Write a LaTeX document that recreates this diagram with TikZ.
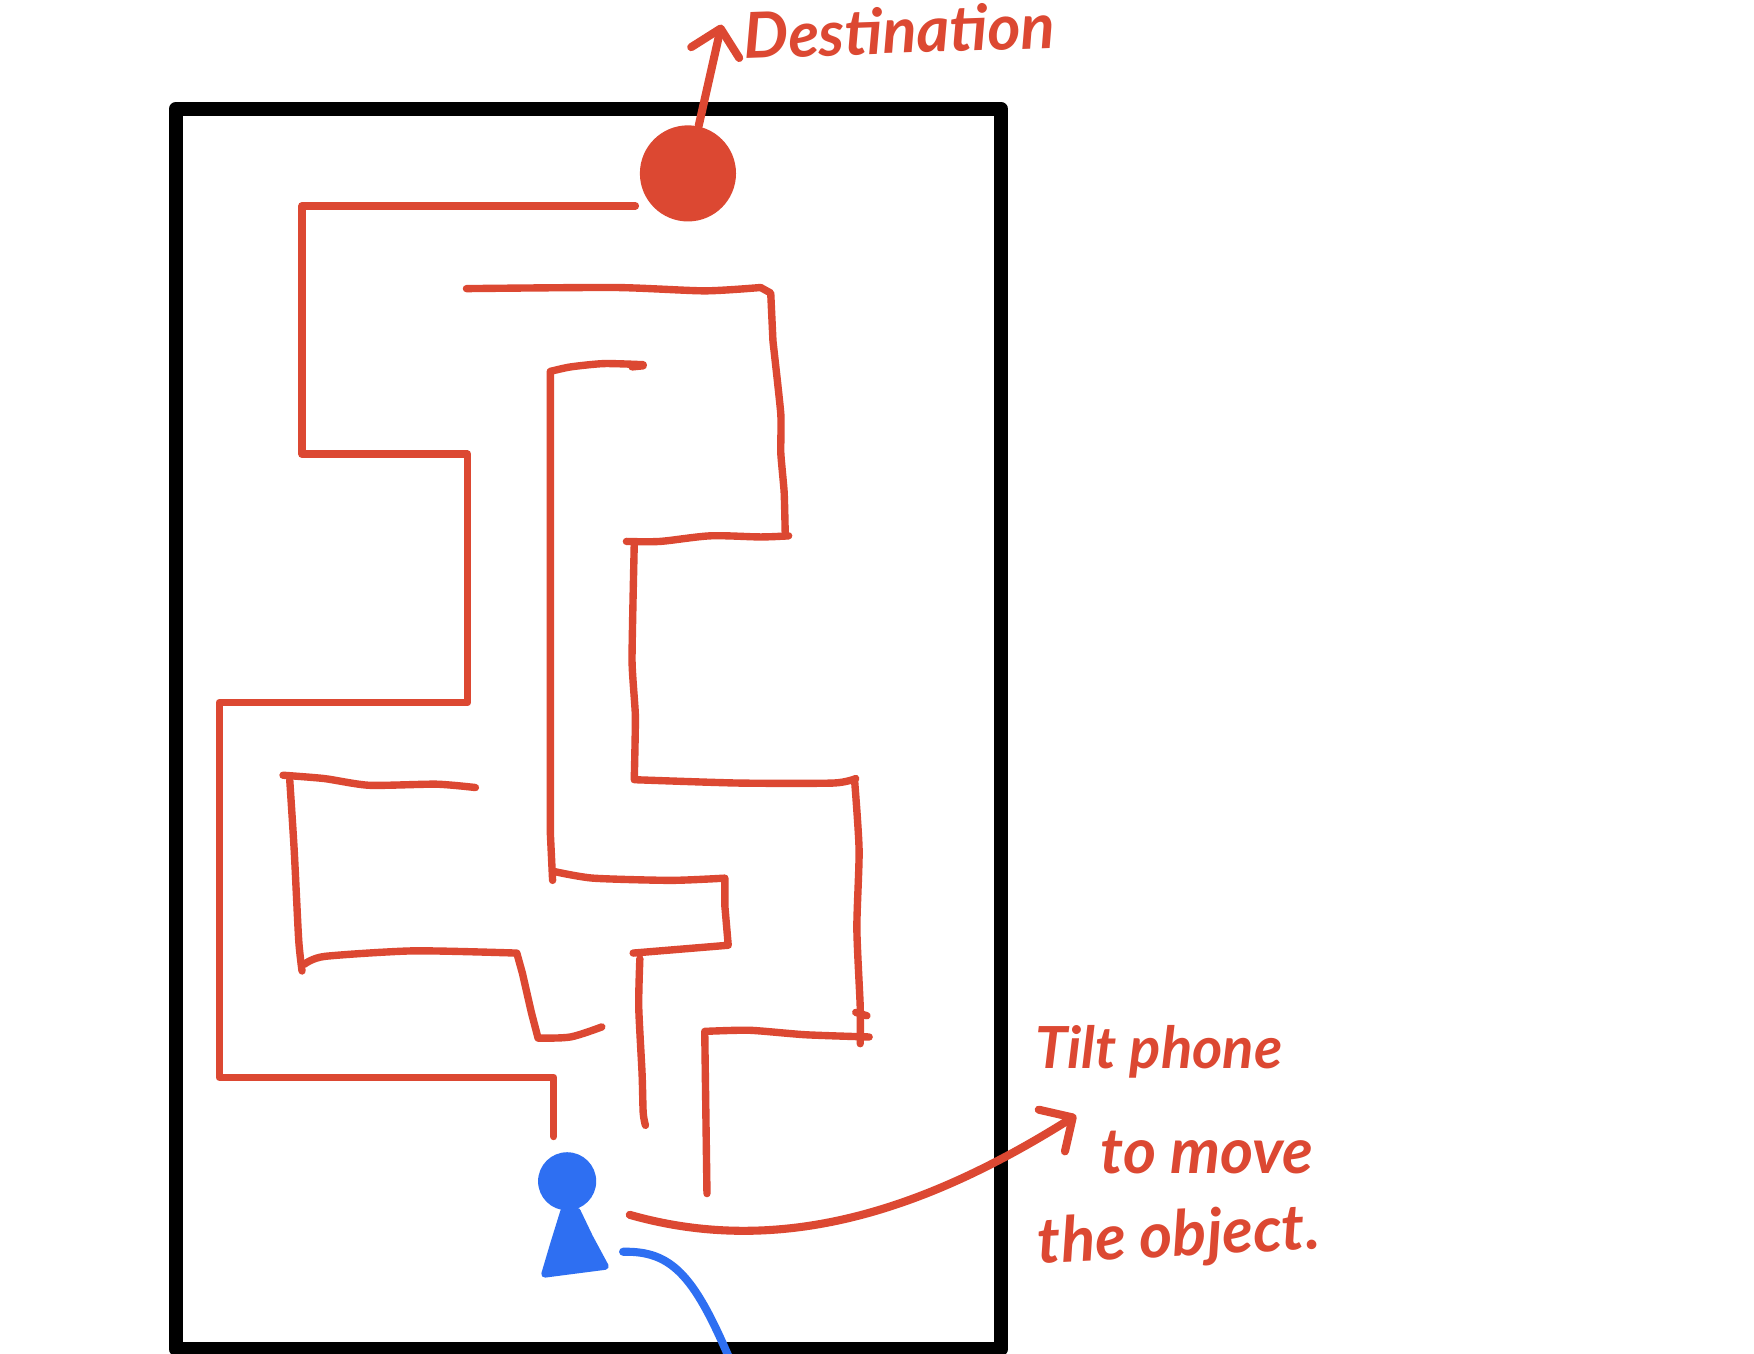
\documentclass[tikz,border=0pt]{standalone}
\usepackage{fontspec}
\setmainfont{Lato}
\usetikzlibrary{arrows.meta}
\definecolor{inkred}{HTML}{DC4832}
\definecolor{inkblue}{HTML}{2E6FF2}

\begin{document}
\begin{tikzpicture}[
    x=0.011186cm,
    y=-0.011186cm,
    frame/.style={draw=black, line width=4pt, line join=round},
    maze/.style={draw=inkred, line width=2.1pt, line cap=round, line join=round},
    arrow/.style={
        -{Straight Barb[length=7pt, width=14pt, line width=2.3pt, round]},
        draw=inkred,
        line width=2.3pt,
        line cap=round
    },
    note/.style={font=\itshape\bfseries\fontsize{18}{22}\selectfont, text=inkred, inner sep=0pt, anchor=center},
    goal/.style={circle, fill=inkred, minimum size=86*0.318pt, inner sep=0pt},
    head/.style={circle, fill=inkblue, minimum size=52*0.318pt, inner sep=0pt}
]
\useasboundingbox (0,0) rectangle (1568,1210.4);
\fill[white] (0,0) rectangle (1568,1210.4);

% ==================== PHONE ====================
\draw[frame] (157,97.5) rectangle (895,1206);

% ==================== MAZE WALLS ====================
\draw[maze] (568,184) -- (270,184) -- (270,406) -- (418,406) -- (418,628)
    -- (196,628) -- (196,963) -- (495,963) -- (495,1016);
\draw[maze] plot[smooth, tension=0.4] coordinates {(417,258) (550,257) (630,260) (680,257)}
    -- (689,262) -- plot[smooth, tension=0.3] coordinates {(691,305) (698,370) (698,405) (701,440) (702,479)};
\draw[maze] plot[smooth, tension=0.5] coordinates {(705,479) (680,480) (635,479) (590,484) (560,484)};
\draw[maze] plot[smooth, tension=0.3] coordinates {(567,486) (565,590) (568,640) (567,697)}
    -- plot[smooth, tension=0.4] coordinates {(567,697) (660,700) (745,700) (765,696)};
\draw[maze] plot[smooth, tension=0.4] coordinates {(764,698) (768,760) (766,830) (769,900) (769,933)};
\draw[maze] (765,905) -- (775,908);
\draw[maze] plot[smooth, tension=0.4] coordinates {(777,927) (720,925) (670,921) (630,922)}
    -- (632,1067);
\draw[maze] (575,327) -- (565,328) (575,326) -- plot[smooth, tension=0.4] coordinates {(575,326) (540,325) (510,328) (492,332)}
    -- (492,745) -- (494,787);
\draw[maze] plot[smooth, tension=0.4] coordinates {(495,779) (530,785) (600,787) (648,785)}
    -- (648,810) -- (651,845) -- (566,852);
\draw[maze] plot[smooth, tension=0.4] coordinates {(572,857) (571,900) (574,960) (575,995) (577,1006)};
\draw[maze] plot[smooth, tension=0.4] coordinates {(253,693) (290,696) (330,702) (390,701) (425,704)};
\draw[maze] plot[smooth, tension=0.4] coordinates {(259,697) (263,760) (267,840) (270,868)};
\draw[maze] plot[smooth, tension=0.4] coordinates {(272,862) (290,855) (370,850) (462,852)}
    -- (467,870) -- (475,905) -- (481,928) -- plot[smooth, tension=0.5] coordinates {(481,928) (510,927) (538,918)};

% ==================== OBJECT AND DESTINATION ====================
\node[goal] (goal) at (615,155) {};
\node[head] (head) at (507,1056) {};
\filldraw[draw=inkblue, fill=inkblue, line width=2pt, line join=round, line cap=round]
    (504,1083) -- (516,1083) -- (527,1106) -- (541,1132) -- (510,1136) -- (487,1139) -- (495,1112) -- cycle;

% ==================== NOTES ====================
\node[note, rotate=2] (destlabel) at (804,27) {Destination};
\node[note, font=\itshape\bfseries\fontsize{16.5}{20}\selectfont] (tiltlabel) at (1036,940) {Tilt phone};
\node[note] (movelabel) at (1079,1030) {to move};
\node[note, rotate=3] (objectlabel) at (1054,1107) {the object.};

\coordinate (goaltip) at (645,22);
\coordinate (tiltstart) at (563,1086);
\coordinate (tilttip) at (962,997);
\coordinate (tracestart) at (557,1119);
\coordinate (traceend) at (651,1212);

% Arrows
\draw[arrow] (goal) -- (goaltip);
\draw[arrow] (tiltstart) .. controls (700,1125) and (830,1080) .. (tilttip);
\draw[draw=inkblue, line width=2.3pt, line cap=round] (tracestart) .. controls (600,1118) and (620,1140) .. (traceend);

\end{tikzpicture}
\end{document}
